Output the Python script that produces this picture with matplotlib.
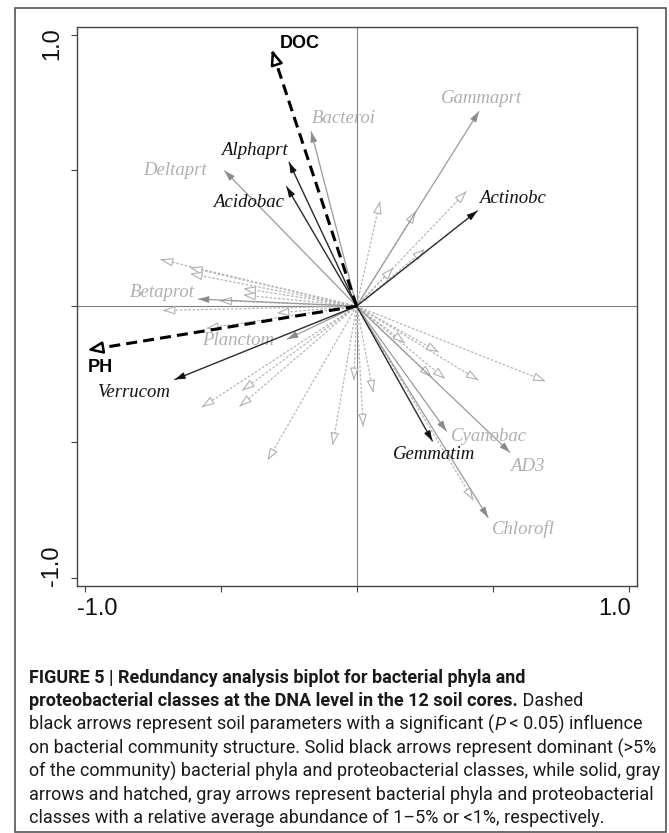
import numpy as np
import matplotlib
matplotlib.use("Agg")
import matplotlib.pyplot as plt
from matplotlib.patches import FancyArrowPatch, Rectangle

# soil parameters (dashed black arrows)
env_names = ["DOC", "PH"]
env_x = [-0.312, -0.990]
env_y = [0.945, -0.162]
env_lab_x = [-0.208, -0.944]
env_lab_y = [0.968, -0.225]

# dominant taxa (solid black arrows)
dom_names = ["Alphaprt", "Acidobac", "Actinobc", "Verrucom", "Gemmatim"]
dom_x = [-0.248, -0.257, 0.443, -0.668, 0.278]
dom_y = [0.529, 0.439, 0.350, -0.270, -0.496]
dom_lab_x = [-0.375, -0.399, 0.574, -0.822, 0.283]
dom_lab_y = [0.574, 0.381, 0.395, -0.318, -0.545]

# 1-5% taxa (solid gray arrows)
mid_names = ["Bacteroi", "Gammaprt", "Deltaprt", "Betaprot", "Planctom",
             "Cyanobac", "AD3", "Chlorofl"]
mid_x = [-0.167, 0.449, -0.485, -0.581, -0.254, 0.330, 0.563, 0.483]
mid_y = [0.642, 0.716, 0.498, 0.026, -0.121, -0.460, -0.538, -0.778]
mid_lab_x = [-0.046, 0.458, -0.668, -0.715, -0.437, 0.488, 0.627, 0.614]
mid_lab_y = [0.690, 0.765, 0.498, 0.050, -0.125, -0.479, -0.592, -0.822]

# <1% taxa (hatched gray arrows, no labels)
rare_x = [0.086, 0.218, 0.404, 0.251, 0.135, -0.721, -0.613, -0.613,
          -0.417, -0.417, -0.505, -0.713, -0.294, -0.553, -0.421, -0.569,
          -0.431, -0.328, -0.088, -0.010, 0.024, 0.061, 0.178, 0.302,
          0.276, 0.326, 0.448, 0.695, 0.429]
rare_y = [0.386, 0.350, 0.423, 0.210, 0.141, 0.172, 0.142, 0.120,
          0.065, 0.041, 0.020, -0.016, -0.025, -0.082, -0.311, -0.372,
          -0.370, -0.569, -0.512, -0.273, -0.443, -0.318, -0.136, -0.170,
          -0.262, -0.268, -0.273, -0.277, -0.715]

caption_lines = [
    [("FIGURE 5 | Redundancy analysis biplot for bacterial phyla and", "bold", "normal")],
    [("proteobacterial classes at the DNA level in the 12 soil cores.", "bold", "normal"),
     (" Dashed", "normal", "normal")],
    [("black arrows represent soil parameters with a significant (", "normal", "normal"),
     ("P", "normal", "italic"),
     (" < 0.05) influence", "normal", "normal")],
    [("on bacterial community structure. Solid black arrows represent dominant (>5%", "normal", "normal")],
    [("of the community) bacterial phyla and proteobacterial classes, while solid, gray", "normal", "normal")],
    [("arrows and hatched, gray arrows represent bacterial phyla and proteobacterial", "normal", "normal")],
    [("classes with a relative average abundance of 1\u20135% or <1%, respectively.", "normal", "normal")],
]

W, H = 669, 833
fig = plt.figure(figsize=(W / 100, H / 100), dpi=100)
ax = fig.add_axes([76.5 / W, 1 - 585.5 / H, 560 / W, 558.2 / H])
ax.set_xlim(-1.03, 1.029)
ax.set_ylim(-1.029, 1.027)

for s in ax.spines.values():
    s.set_color("#444444")
    s.set_linewidth(1.0)
ticks = [-1.0, -0.5, 0.0, 0.5, 1.0]
ax.set_xticks(ticks)
ax.set_yticks(ticks)
ax.set_xticklabels([])
ax.set_yticklabels([])
ax.tick_params(direction="out", length=4, width=0.8, color="#444444")

ax.axhline(0, color="#808080", lw=0.8, zorder=1)
ax.axvline(0, color="#808080", lw=0.8, zorder=1)


def head(x, y, hl, hw, ec, fc, lw, z):
    d = np.hypot(x, y)
    ux, uy = x / d, y / d
    L = 0.03
    p = FancyArrowPatch((x - ux * L, y - uy * L), (x, y),
                        arrowstyle="-|>,head_length=%g,head_width=%g" % (hl, hw),
                        mutation_scale=1, shrinkA=0, shrinkB=0,
                        ec=ec, fc=fc, lw=lw, zorder=z)
    ax.add_patch(p)


serif = ["Liberation Serif", "DejaVu Serif"]
sans = ["Liberation Sans", "DejaVu Sans"]

# rare taxa
for x, y in zip(rare_x, rare_y):
    ax.plot([0, x], [0, y], color="#b5b5b5", lw=0.9, ls=(0, (2, 1.4)), zorder=2)
    head(x, y, 7.5, 2.6, "#b0b0b0", "white", 0.8, 3)

# 1-5% taxa
for n, x, y, lx, ly in zip(mid_names, mid_x, mid_y, mid_lab_x, mid_lab_y):
    ax.plot([0, x], [0, y], color="#9a9a9a", lw=0.9, zorder=4)
    head(x, y, 6, 2.0, "#8a8a8a", "#8a8a8a", 0.8, 5)
    ax.text(lx, ly, n, color="#b0b0b0", fontsize=13.5, style="italic",
            family=serif, ha="center", va="center", zorder=6)

# dominant taxa
for n, x, y, lx, ly in zip(dom_names, dom_x, dom_y, dom_lab_x, dom_lab_y):
    ax.plot([0, x], [0, y], color="#2a2a2a", lw=1.0, zorder=7)
    head(x, y, 6, 2.0, "#111111", "#111111", 0.8, 8)
    ax.text(lx, ly, n, color="#111111", fontsize=13.5, style="italic",
            family=serif, ha="center", va="center", zorder=9)

# soil parameters
for n, x, y, lx, ly in zip(env_names, env_x, env_y, env_lab_x, env_lab_y):
    ax.plot([0, x], [0, y], color="black", lw=2.2, ls=(0, (3.6, 2.0)), zorder=10)
    head(x, y, 9, 3.6, "black", "white", 1.8, 11)
    ax.text(lx, ly, n, color="black", fontsize=13, fontweight="bold",
            family=sans, ha="center", va="center", zorder=12)

# tick labels only at the ends
ax.text(0.0, -0.022, "-1.0", transform=ax.transAxes, fontsize=17, family=sans,
        ha="left", va="top", color="#111111")
ax.text(0.99, -0.022, "1.0", transform=ax.transAxes, fontsize=17, family=sans,
        ha="right", va="top", color="#111111")
ax.text(-0.024, 1.0, "1.0", transform=ax.transAxes, fontsize=17, family=sans,
        ha="right", va="top", rotation=90, color="#111111")
ax.text(-0.024, 0.0, "-1.0", transform=ax.transAxes, fontsize=17, family=sans,
        ha="right", va="bottom", rotation=90, color="#111111")

# outer frame
fig.add_artist(Rectangle((14.5 / W, 1.5 / H), 651 / W, 823.5 / H,
                         transform=fig.transFigure, fill=False,
                         ec="#555555", lw=1.2))

# caption: fit the longest line to the width used in the figure
cap_font = ["Roboto", "DejaVu Sans"]
fig.canvas.draw()
renderer = fig.canvas.get_renderer()
probe = fig.text(0, 0, caption_lines[3][0][0], fontsize=14, family=cap_font)
pw = probe.get_window_extent(renderer=renderer).width
probe.remove()
cap_fs = 14 * 628 / pw

y0 = 678
for i, line in enumerate(caption_lines):
    xpix = 29
    ypix = y0 + i * 23.4
    for txt, wt, st in line:
        t = fig.text(xpix / W, 1 - ypix / H, txt, fontsize=cap_fs, family=cap_font,
                     fontweight=wt, style=st, ha="left", va="center",
                     color="#1a1a1a")
        bb = t.get_window_extent(renderer=renderer)
        xpix = bb.x1

fig.savefig("out.png", dpi=100)
